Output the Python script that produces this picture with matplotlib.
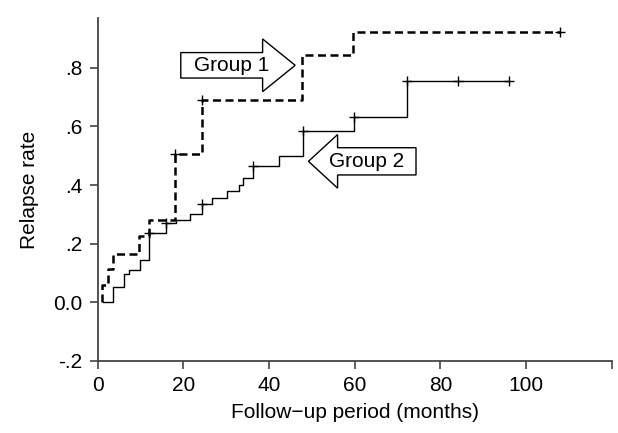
import numpy as np
import matplotlib
matplotlib.use("Agg")
import matplotlib.pyplot as plt
from matplotlib.patches import FancyArrow

plt.rcParams['font.family'] = ['Liberation Sans', 'DejaVu Sans']

# Group 1 (dashed): jump times (months) and cumulative relapse rate
t1 = [1, 1, 2.5, 3.6, 9.7, 12, 18, 24.3, 47.6, 59.7, 108]
y1 = [0, 0.057, 0.114, 0.166, 0.225, 0.28, 0.506, 0.691, 0.845, 0.924, 0.924]
cens1 = [18, 24.3, 108]

# Group 2 (solid)
t2 = [1.2, 3.6, 6.2, 7.4, 9.9, 12, 15.9, 18.3, 21.5, 24.3, 26.8, 30.1, 33, 34,
      36.2, 42.4, 47.9, 59.9, 72.1, 96]
y2 = [0, 0.052, 0.096, 0.109, 0.143, 0.237, 0.271, 0.282, 0.301, 0.335, 0.356,
      0.381, 0.401, 0.424, 0.466, 0.498, 0.585, 0.631, 0.754, 0.754]
cens2 = [12, 15.9, 24.3, 36.2, 47.9, 59.9, 72.1, 84, 96]

xticks = [0, 20, 40, 60, 80, 100]
yticks = [-0.2, 0.0, 0.2, 0.4, 0.6, 0.8]
ylabels = ['-.2', '0.0', '.2', '.4', '.6', '.8']


def step_at(t, y, c):
    idx = np.searchsorted(t, c, side='right') - 1
    return np.asarray(y)[idx]


fig = plt.figure(figsize=(6.18, 4.33), dpi=100)
ax = fig.add_axes([0.158, 0.167, 0.832, 0.791])

ax.step(t1, y1, where='post', color='black', lw=1.8, ls=(0, (3.2, 1.8)))
ax.step(t2, y2, where='post', color='black', lw=1.0)
ax.plot(cens1, step_at(t1, y1, cens1), '+', color='black', ms=7, mew=1.0)
ax.plot(cens2, step_at(t2, y2, cens2), '+', color='black', ms=7, mew=1.0)

# block arrows with group names
a1 = FancyArrow(19.4, 0.809, 26.7, 0, width=0.087, head_width=0.18,
                head_length=7.6, length_includes_head=True,
                fc='white', ec='black', lw=1.0, zorder=5)
a2 = FancyArrow(74.3, 0.481, -25.1, 0, width=0.093, head_width=0.183,
                head_length=6.8, length_includes_head=True,
                fc='white', ec='black', lw=1.0, zorder=5)
ax.add_patch(a1)
ax.add_patch(a2)
ax.text(31.3, 0.809, 'Group 1', ha='center', va='center', fontsize=15, zorder=6)
ax.text(62.8, 0.481, 'Group 2', ha='center', va='center', fontsize=15, zorder=6)

ax.set_xlim(0, 120)
ax.set_ylim(-0.2, 0.97)
ax.set_xticks(xticks + [120])
ax.set_xticklabels([str(v) for v in xticks] + [''])
ax.set_yticks(yticks)
ax.set_yticklabels(ylabels)

for s in ['top', 'right']:
    ax.spines[s].set_visible(False)
for s in ['left', 'bottom']:
    ax.spines[s].set_color('#444444')
    ax.spines[s].set_linewidth(1.3)
ax.tick_params(direction='out', length=6, width=1.2, color='#444444',
               labelsize=15, pad=5)

ax.set_xlabel('Follow\u2212up period (months)', fontsize=15, labelpad=6)
ax.set_ylabel('Relapse rate', fontsize=15, labelpad=10)

fig.savefig('out.png', dpi=100)
